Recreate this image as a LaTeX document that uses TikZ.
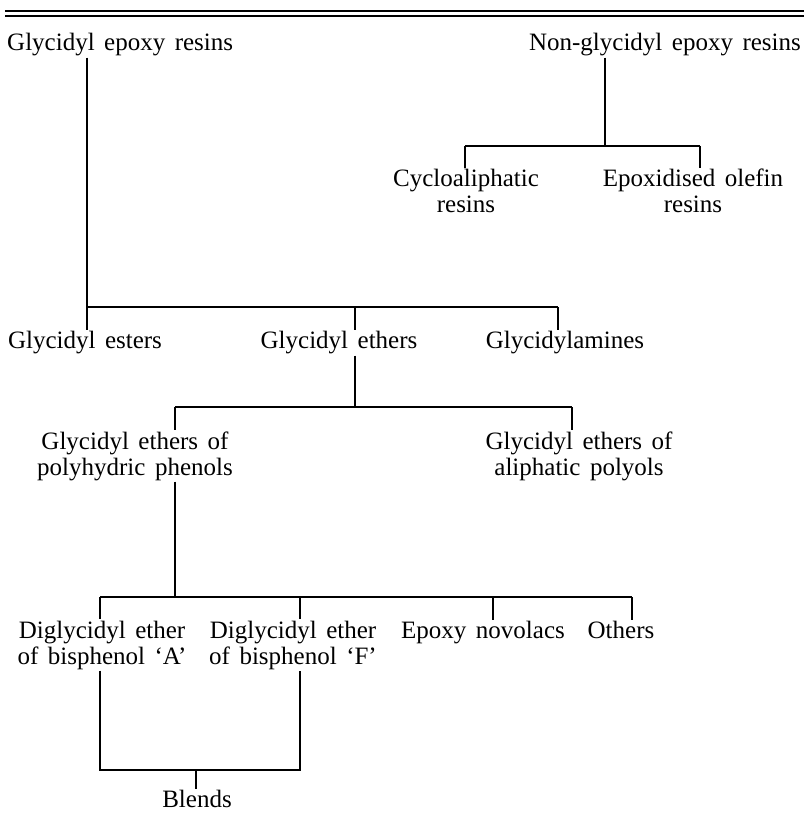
\documentclass[tikz,border=0pt]{standalone}
\usepackage{fontspec}
\setmainfont{Liberation Serif}
\usetikzlibrary{positioning}
\newcommand\klassfont{\fontsize{25}{26}\selectfont\spaceskip 9.5pt plus 2pt\relax}
\tikzset{
  % class name, may run over two lines
  klass/.style={inner sep=1pt, align=center, font=\klassfont},
  % tree branch
  branch/.style={line width=1.4pt},
  % table rule at the top
  toprule/.style={line width=1.8pt},
}

\begin{document}
\begin{tikzpicture}[x=1pt,y=-1pt]
  \useasboundingbox (0,0) rectangle (804,818);
  \draw[toprule] (5,11) -- (804,11);
  \draw[toprule] (5,16) -- (804,16);

  % classes
  \node[klass, anchor=west] (glycepoxy) at (6,45) {Glycidyl epoxy resins};
  \node[klass, anchor=east] (nonglyc) at (802,45) {Non-glycidyl epoxy resins};
  \node[klass] (cyclo) at (466,191) {Cycloaliphatic\\resins};
  \node[klass] (olefin) at (693,191) {Epoxidised olefin\\resins};
  \node[klass] (esters) at (85,343) {Glycidyl esters};
  \node[klass] (ethers) at (339,343) {Glycidyl ethers};
  \node[klass] (amines) at (565,343) {Glycidylamines};
  \node[klass] (polyhyd) at (135,456) {Glycidyl ethers of\\polyhydric phenols};
  \node[klass] (aliph) at (579,456) {Glycidyl ethers of\\aliphatic polyols};
  \node[klass] (dgeba) at (102,645) {Diglycidyl ether\\of bisphenol ‘A’};
  \node[klass] (dgebf) at (293,645) {Diglycidyl ether\\of bisphenol ‘F’};
  \node[klass] (novolac) at (483,633) {Epoxy novolacs};
  \node[klass] (others) at (621,630) {Others};
  \node[klass] (blends) at (197,799) {Blends};

  % branch points
  \coordinate (b1l) at (465,146);
  \coordinate (b1m) at (605,146);
  \coordinate (b1r) at (700,146);
  \coordinate (b2l) at (87,307);
  \coordinate (b2m) at (355,307);
  \coordinate (b2r) at (558,307);
  \coordinate (b3l) at (175,407);
  \coordinate (b3m) at (355,407);
  \coordinate (b3r) at (572,407);
  \coordinate (b4a) at (100,597);
  \coordinate (b4b) at (300,597);
  \coordinate (b4c) at (493,597);
  \coordinate (b4d) at (632,597);
  \coordinate (b5l) at (100,770);
  \coordinate (b5m) at (196,770);
  \coordinate (b5r) at (300,770);

  % non-glycidyl
  \draw[branch] (nonglyc.south -| b1m) -- (b1m);
  \draw[branch] (b1l) -- (b1r);
  \foreach \b/\n in {b1l/cyclo,b1r/olefin}
    \draw[branch] (\b) -- (\b |- \n.north);

  % glycidyl
  \draw[branch] (glycepoxy.south -| b2l) -- (b2l) -- (b2r);
  \foreach \b/\n in {b2l/esters,b2m/ethers,b2r/amines}
    \draw[branch] (\b) -- (\b |- \n.north);
  \draw[branch] (ethers.south -| b3m) -- (b3m);
  \draw[branch] (b3l) -- (b3r);
  \foreach \b/\n in {b3l/polyhyd,b3r/aliph}
    \draw[branch] (\b) -- (\b |- \n.north);
  \draw[branch] (polyhyd.south -| b3l) -- (b4a -| b3l);
  \draw[branch] (b4a) -- (b4d);
  \foreach \b/\n in {b4a/dgeba,b4b/dgebf,b4c/novolac,b4d/others}
    \draw[branch] (\b) -- (\b |- \n.north);

  % blends
  \draw[branch] (dgeba.south -| b5l) -- (b5l) -- (b5r) -- (dgebf.south -| b5r);
  \draw[branch] (b5m) -- (b5m |- blends.north);
\end{tikzpicture}
\end{document}
